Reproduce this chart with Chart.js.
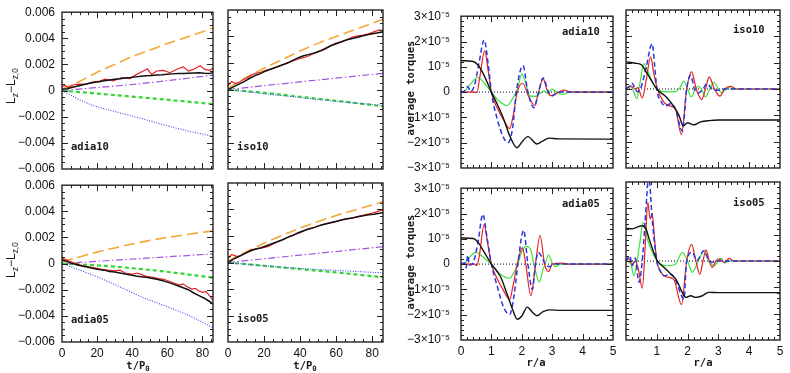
<!DOCTYPE html>
<html>
<head>
<meta charset="utf-8">
<title>torque panels</title>
<script src="https://cdn.jsdelivr.net/npm/chart.js@4.4.0/dist/chart.umd.min.js"></script>
<style>
  body { margin: 0; background: #fff; width: 790px; height: 373px; position: relative; overflow: hidden; }
  canvas { position: absolute; }
  .txt { position: absolute; white-space: nowrap; line-height: 1; color: #1a1a1a; }
  .mono { font-family: "DejaVu Sans Mono", monospace; font-size: 10.5px; font-weight: bold; }
  .sans { font-family: "Liberation Sans", Arial, sans-serif; font-size: 12px; }
  sub { font-size: 70%; vertical-align: -0.35em; }
</style>
</head>
<body>
<script>
// ---- axis ticks ----
const tTicks = [0, 20, 40, 60, 80];
const lzTicks = [-6, -4, -2, 0, 2, 4, 6];        // units of 0.001
const rTicks = [0, 1, 2, 3, 4, 5];
const rTicksIso = [1, 2, 3, 4, 5];
const torqueTicks = [-3, -2, -1, 0, 1, 2, 3];    // units of 1e-5

// ---- left panels: L_z - L_z,0 (units of 0.001) vs t/P0 ----
// adia10
const a10_orange = [[0,0.1],[10,0.7],[20,1.4],[30,2.0],[40,2.6],[50,3.1],[60,3.6],[70,4.05],[80,4.5],[86,4.8]];
const a10_purple = [[0,0],[46,0.55],[86,1.18]];
const a10_green = [[0,0],[46,-0.53],[86,-1.03]];
const a10_blue = [[0,0],[5,-0.35],[10,-0.7],[18,-1.16],[30,-1.6],[46,-2.16],[60,-2.7],[72,-3.1],[86,-3.5]];
const a10_red = [[0,0.3],[1.7,0.4],[3.6,0.24],[6.5,0.45],[10,0.5],[13.5,0.48],[17.8,0.67],[21,0.7],[24.5,0.87],[29.2,0.74],[34,1.0],[38.7,0.92],[42.5,1.24],[46.3,1.5],[48.6,1.67],[51,1.24],[53.9,1.5],[57.7,1.55],[61.5,1.37],[66,1.67],[69.1,1.82],[72,1.5],[74.8,1.62],[78.6,1.9],[81.4,1.62],[84.3,1.55],[86,1.75]];
const a10_black = [[0,0.1],[3,0.15],[6,0.25],[9,0.35],[12,0.45],[15,0.55],[18,0.62],[21,0.68],[24,0.76],[27,0.82],[30,0.87],[33,0.9],[36,0.96],[39,1.0],[42,1.05],[45,1.1],[48,1.14],[51,1.16],[54,1.2],[57,1.22],[60,1.25],[63,1.28],[66,1.3],[69,1.3],[72,1.33],[75,1.35],[78,1.36],[81,1.32],[84,1.3],[86,1.38]];
// adia05
const a05_orange = [[0,0.15],[10,0.5],[20,0.88],[30,1.2],[40,1.5],[50,1.78],[60,2.0],[70,2.2],[80,2.4],[86,2.5]];
const a05_purple = [[0,0],[46,0.4],[86,0.74]];
const a05_green = [[0,0],[27,-0.2],[56,-0.57],[86,-1.07]];
const a05_blue = [[0,0],[10,-0.5],[18,-0.9],[30,-1.6],[46,-2.6],[60,-3.3],[72,-3.95],[86,-4.9]];
const a05_red = [[0,0.4],[2,0.3],[4,0.2],[7,0.05],[10,-0.1],[14,-0.22],[18,-0.3],[22,-0.42],[26,-0.5],[30,-0.55],[33,-0.5],[36,-0.72],[40,-0.8],[43,-0.72],[45,-0.82],[48,-0.98],[52,-1.05],[55,-1.15],[58,-1.2],[61,-1.35],[64,-1.5],[67,-1.65],[69,-1.55],[71,-1.75],[74,-1.95],[76,-1.9],[78,-2.1],[80,-2.2],[82,-2.15],[84,-2.45],[86,-2.8]];
const a05_black = [[0,0.3],[3,0.15],[6,0],[9,-0.1],[12,-0.2],[15,-0.28],[18,-0.38],[21,-0.45],[24,-0.5],[27,-0.6],[30,-0.65],[33,-0.72],[36,-0.8],[39,-0.88],[42,-0.95],[45,-1.0],[48,-1.05],[51,-1.12],[54,-1.2],[57,-1.3],[60,-1.42],[63,-1.55],[66,-1.7],[69,-1.85],[72,-2.0],[75,-2.25],[78,-2.45],[81,-2.65],[84,-2.9],[86,-3.1]];
// iso10
const i10_orange = [[0,0.1],[10,0.9],[20,1.6],[30,2.25],[40,2.9],[50,3.5],[60,4.0],[70,4.5],[80,5.0],[86,5.3]];
const i10_purple = [[0,0],[43,0.62],[86,1.22]];
const i10_green = [[0,0],[20,-0.25],[40,-0.55],[60,-0.85],[86,-1.27]];
const i10_blue = [[0,0],[20,-0.32],[40,-0.6],[60,-0.9],[86,-1.2]];
const i10_red = [[0,0.27],[2,0.6],[4,0.45],[6,0.55],[8,0.7],[10,0.85],[13,1.1],[15,1.2],[18,1.3],[21,1.45],[24,1.55],[27,1.7],[30,1.85],[33,2.0],[36,2.15],[39,2.3],[42,2.4],[45,2.55],[48,2.75],[51,2.9],[54,3.05],[57,3.3],[60,3.5],[63,3.6],[66,3.75],[69,3.95],[72,4.05],[75,4.1],[78,4.2],[81,4.35],[84,4.5],[86,4.42]];
const i10_black = [[0,0],[3,0.2],[6,0.4],[9,0.6],[12,0.85],[15,1.05],[18,1.2],[21,1.4],[24,1.55],[27,1.7],[30,1.85],[33,2.0],[36,2.2],[39,2.4],[42,2.55],[45,2.65],[48,2.75],[51,2.9],[54,3.1],[57,3.3],[60,3.45],[63,3.6],[66,3.75],[69,3.85],[72,3.95],[75,4.05],[78,4.15],[81,4.22],[84,4.3],[86,4.35]];
// iso05
const i05_orange = [[0,0.1],[10,0.8],[20,1.45],[30,2.05],[40,2.6],[50,3.1],[60,3.55],[70,3.95],[80,4.35],[86,4.6]];
const i05_purple = [[0,0],[43,0.6],[86,1.19]];
const i05_green = [[0,0],[20,-0.25],[40,-0.5],[60,-0.75],[86,-1.12]];
const i05_blue = [[0,0],[20,-0.25],[40,-0.45],[60,-0.6],[86,-0.78]];
const i05_red = [[0,0.3],[2,0.6],[4,0.5],[6,0.45],[8,0.6],[10,0.75],[13,0.95],[16,1.05],[19,1.1],[22,1.2],[25,1.4],[28,1.6],[31,1.75],[34,1.95],[37,2.1],[40,2.25],[43,2.45],[46,2.55],[49,2.7],[52,2.85],[55,2.95],[58,3.05],[61,3.15],[64,3.25],[67,3.3],[70,3.4],[73,3.5],[76,3.6],[79,3.7],[82,3.8],[85,3.95],[86,3.9]];
const i05_black = [[0,0],[3,0.25],[6,0.45],[9,0.65],[12,0.85],[15,1.0],[18,1.1],[21,1.25],[24,1.4],[27,1.55],[30,1.7],[33,1.9],[36,2.05],[39,2.25],[42,2.4],[45,2.55],[48,2.65],[51,2.8],[54,2.9],[57,3.0],[60,3.1],[63,3.2],[66,3.3],[69,3.35],[72,3.45],[75,3.52],[78,3.6],[81,3.65],[84,3.72],[86,3.75]];

// ---- right panels: average torques (units of 1e-5) vs r/a ----
const zeroLine = [[0,0],[5,0]];
// adia10
const ta10_black = [[0,1.24],[0.4,1.21],[0.55,1.08],[0.7,0.8],[0.85,0.42],[1.0,0],[1.2,-0.5],[1.4,-1.05],[1.6,-1.72],[1.84,-2.2],[2.0,-1.98],[2.2,-1.76],[2.5,-2.05],[2.65,-1.96],[2.9,-1.82],[3.2,-1.85],[5,-1.86]];
const ta10_blue = [[0,0],[0.12,0.05],[0.22,0.22],[0.32,0.02],[0.45,0.3],[0.6,1.2],[0.76,2.06],[0.9,1.05],[1.0,0],[1.2,-1.1],[1.4,-1.8],[1.55,-2.0],[1.7,-1.4],[1.82,0],[2.04,1.05],[2.2,0],[2.4,-0.62],[2.55,0],[2.7,0.56],[2.88,0],[3.0,-0.15],[3.2,0],[5,0]];
const ta10_red = [[0,0],[0.45,0],[0.52,-0.02],[0.62,0.6],[0.78,1.63],[0.9,0.8],[1.0,0],[1.2,-0.65],[1.4,-1.1],[1.6,-1.44],[1.72,-0.9],[1.85,0],[2.03,0.35],[2.2,-0.1],[2.42,-0.53],[2.55,0],[2.7,0.52],[2.85,0],[2.95,-0.14],[3.1,-0.08],[3.4,0.08],[3.6,0],[5,0]];
const ta10_green = [[0,0],[0.1,0.02],[0.3,0.3],[0.55,0.58],[0.7,0.45],[1.0,0],[1.25,-0.35],[1.52,-0.53],[1.7,-0.25],[1.85,0.1],[2.0,0.71],[2.12,0.4],[2.25,-0.15],[2.45,-0.17],[2.6,-0.05],[2.72,0.05],[2.85,-0.05],[3.0,0.12],[3.15,0],[3.35,-0.1],[3.55,0],[5,0]];
// adia05
const ta05_black = [[0,1.03],[0.4,1.01],[0.56,0.86],[0.75,0.5],[1.0,0],[1.3,-0.5],[1.5,-1.13],[1.7,-1.8],[1.85,-2.18],[2.0,-2.05],[2.18,-1.7],[2.35,-1.9],[2.5,-2.04],[2.7,-1.88],[2.9,-1.81],[3.3,-1.83],[5,-1.83]];
const ta05_blue = [[0,0],[0.12,0.05],[0.17,-0.15],[0.22,0.35],[0.28,-0.05],[0.4,0.05],[0.55,0.8],[0.72,1.97],[0.85,1.1],[1.0,0],[1.2,-0.9],[1.4,-1.7],[1.6,-1.99],[1.75,-1.2],[1.87,0],[2.06,1.34],[2.2,0],[2.35,-1.0],[2.45,0],[2.54,0.46],[2.65,0.3],[2.77,0],[2.9,-0.1],[3.1,0],[5,0]];
const ta05_red = [[0,0],[0.45,0],[0.52,-0.06],[0.6,0.3],[0.76,1.56],[0.88,0.8],[1.0,0],[1.2,-0.6],[1.4,-1.05],[1.6,-1.4],[1.72,-0.8],[1.85,0],[2.02,0.65],[2.13,0],[2.3,-1.25],[2.45,0],[2.6,1.13],[2.75,0],[2.88,-0.3],[3.0,0],[3.3,0.04],[3.6,0],[5,0]];
const ta05_green = [[0,0],[0.15,0.05],[0.3,0.3],[0.5,0.46],[0.7,0.3],[1.0,0],[1.3,-0.4],[1.6,-0.56],[1.75,-0.3],[1.87,0],[2.0,0.5],[2.15,0.7],[2.28,0.6],[2.4,0],[2.58,-0.71],[2.7,-0.2],[2.77,0],[2.88,0.37],[3.0,0.05],[3.08,-0.1],[3.3,0],[5,0]];
// iso10
const ti10_black = [[0,1.03],[0.3,0.98],[0.5,0.92],[0.69,0.58],[1.0,0],[1.34,-0.34],[1.56,-0.68],[1.72,-1.0],[1.86,-1.4],[2.0,-1.28],[2.2,-1.36],[2.42,-1.25],[2.7,-1.2],[3.0,-1.18],[5,-1.18]];
const ti10_blue = [[0,0],[0.12,0.1],[0.2,0.22],[0.3,0],[0.37,-0.1],[0.5,0.1],[0.65,0.8],[0.85,1.72],[0.93,0.9],[1.0,0],[1.15,-0.5],[1.28,-0.65],[1.45,-0.56],[1.6,-0.75],[1.83,-1.6],[1.97,0],[2.1,0.52],[2.22,0],[2.35,-0.15],[2.5,0],[2.62,0.2],[2.8,0],[3.0,-0.05],[3.2,0],[5,0]];
const ti10_red = [[0,0],[0.15,0.12],[0.3,0],[0.38,0.05],[0.53,-0.34],[0.65,0.3],[0.8,1.22],[0.9,0.6],[1.02,0],[1.2,-0.45],[1.35,-0.62],[1.6,-0.75],[1.8,-1.73],[1.97,0],[2.13,0.65],[2.28,0],[2.46,-0.4],[2.58,0],[2.7,0.46],[2.87,0],[3.05,-0.27],[3.2,0],[3.4,0.1],[3.6,0],[5,0]];
const ti10_green = [[0,0],[0.15,0.1],[0.25,-0.1],[0.35,-0.37],[0.45,0.2],[0.58,0.96],[0.7,0.7],[0.85,0.3],[1.0,0],[1.3,-0.11],[1.6,-0.1],[1.75,0.05],[1.87,0.3],[2.0,0],[2.12,-0.3],[2.25,0],[2.35,0.1],[2.45,0],[2.58,-0.3],[2.72,0],[2.85,0.25],[3.0,0],[3.1,-0.15],[3.25,0],[3.35,0.05],[3.5,0],[5,0]];
// iso05
const ti05_black = [[0,1.24],[0.2,1.22],[0.35,1.28],[0.53,1.34],[0.65,1.22],[0.75,0.84],[0.9,0.33],[1.02,0],[1.23,-0.24],[1.45,-0.49],[1.65,-0.75],[1.8,-1.13],[1.94,-1.38],[2.1,-1.32],[2.26,-1.38],[2.48,-1.32],[2.68,-1.19],[3.0,-1.2],[5,-1.2]];
const ti05_blue = [[0,0],[0.12,0.2],[0.2,-0.18],[0.3,0.1],[0.42,-0.81],[0.52,-0.1],[0.62,1.5],[0.74,3.2],[0.85,1.6],[1.0,0],[1.1,-0.35],[1.23,-0.56],[1.45,-0.49],[1.6,-0.7],[1.88,-1.44],[1.97,0],[2.15,0.33],[2.3,0.02],[2.53,0.39],[2.7,0],[2.85,-0.05],[3.0,0],[5,0]];
const ti05_red = [[0,0],[0.1,0.08],[0.2,-0.15],[0.3,0],[0.4,-0.3],[0.53,-1.03],[0.62,0.5],[0.71,2.23],[0.78,1.6],[0.85,1.8],[0.93,0.8],[1.0,0],[1.15,-0.45],[1.3,-0.6],[1.55,-0.7],[1.8,-1.66],[1.97,0],[2.13,0.62],[2.27,0],[2.4,-0.5],[2.5,0],[2.6,0.42],[2.7,0],[2.8,-0.24],[2.92,0],[3.02,0.08],[3.2,-0.05],[3.35,0.1],[3.5,0],[5,0]];
const ti05_green = [[0,0],[0.15,-0.1],[0.26,-0.56],[0.36,0],[0.45,0.7],[0.56,1.47],[0.7,0.8],[0.85,0.35],[1.02,0],[1.3,-0.18],[1.6,-0.12],[1.83,0.33],[2.0,0],[2.15,-0.43],[2.35,0],[2.53,0.39],[2.7,0],[2.86,-0.18],[3.0,0],[3.1,0.1],[3.2,-0.08],[3.35,0],[5,0]];

const C = {
  orange: '#f2a838', purple: '#a650e0', green: '#30d830', blue: '#3a46ee',
  red: '#e52226', black: '#111111', blueDash: '#2a36e0', green2: '#3ee03e'
};

// inward ticks on all four sides + box
const framePlugin = {
  id: 'frame',
  afterDatasetsDraw(chart, args, o) {
    const { ctx, chartArea: a, scales: { x, y } } = chart;
    const isMajor = (v, list) => list.some(m => Math.abs(m - v) < 1e-6);
    ctx.save();
    ctx.strokeStyle = '#222';
    ctx.lineWidth = 1;
    ctx.beginPath();
    const nx = Math.round((x.max - x.min) / o.xStep);
    for (let i = 1; i <= nx; i++) {
      const v = x.min + i * o.xStep;
      if (v >= x.max - 1e-9) continue;
      const px = Math.round(x.getPixelForValue(v)) + 0.5;
      const len = isMajor(v, o.xMajor) ? 6 : 3;
      ctx.moveTo(px, a.bottom); ctx.lineTo(px, a.bottom - len);
      ctx.moveTo(px, a.top); ctx.lineTo(px, a.top + len);
    }
    const ny = Math.round((y.max - y.min) / o.yStep);
    for (let i = 1; i < ny; i++) {
      const v = y.min + i * o.yStep;
      const py = Math.round(y.getPixelForValue(v)) + 0.5;
      const len = isMajor(v, o.yMajor) ? 6 : 3;
      ctx.moveTo(a.left, py); ctx.lineTo(a.left + len, py);
      ctx.moveTo(a.right, py); ctx.lineTo(a.right - len, py);
    }
    ctx.stroke();
    ctx.lineWidth = 1.4;
    ctx.strokeRect(a.left, a.top, a.right - a.left, a.bottom - a.top);
    ctx.restore();
  }
};

const YW = 64, PT = 12, PR = 10, XH = 24;
const tickFont = { family: '"Liberation Sans", Arial, sans-serif', size: 12 };

const fmtLz = v => v === 0 ? '0' : (v < 0 ? '−' : '') + (Math.abs(v) / 1000).toFixed(3);
const fmtTorque = v => v === 0 ? '0' : v === 1 ? '10⁻⁵' : (v < 0 ? '−' : '') + Math.abs(v) + '×10⁻⁵';

function makePanel(p) {
  const [l, t, r, b] = p.box;
  const w = r - l + YW + PR, h = b - t + PT + XH;
  const cv = document.createElement('canvas');
  cv.width = w; cv.height = h;
  cv.style.left = (l - YW) + 'px';
  cv.style.top = (t - PT) + 'px';
  document.body.appendChild(cv);
  new Chart(cv, {
    type: 'line',
    data: { datasets: p.sets },
    options: {
      responsive: false, animation: false, events: [],
      layout: { padding: { left: 0, top: PT, right: PR, bottom: 0 } },
      elements: { point: { radius: 0 } },
      plugins: {
        legend: { display: false }, tooltip: { enabled: false },
        frame: { xStep: p.xStep, yStep: p.yStep, xMajor: p.xMajor, yMajor: p.yMajor }
      },
      scales: {
        x: {
          type: 'linear', min: p.xr[0], max: p.xr[1],
          grid: { display: false, drawTicks: false }, border: { display: false },
          afterBuildTicks: s => { s.ticks = p.xLabels.map(v => ({ value: v })); },
          afterFit: s => { s.height = XH; },
          ticks: { display: p.showX, font: tickFont, color: '#111', padding: 4, maxRotation: 0, autoSkip: false }
        },
        y: {
          type: 'linear', min: p.yr[0], max: p.yr[1],
          grid: { display: false, drawTicks: false }, border: { display: false },
          afterBuildTicks: s => { s.ticks = p.yMajor.map(v => ({ value: v })); },
          afterFit: s => { s.width = YW; },
          ticks: { display: p.showY, font: tickFont, color: '#111', padding: p.yPad, autoSkip: false, callback: p.fmtY }
        }
      }
    },
    plugins: [framePlugin]
  });
}

function leftSets(s) {
  return [
    { data: s.black, borderColor: C.black, borderWidth: 1.5, tension: 0 },
    { data: s.red, borderColor: C.red, borderWidth: 1.2, tension: 0 },
    { data: s.blue, borderColor: C.blue, borderWidth: 1.1, borderDash: [1, 1.5], tension: 0 },
    { data: s.green, borderColor: C.green, borderWidth: 2.2, borderDash: [4, 3], cubicInterpolationMode: 'monotone' },
    { data: s.purple, borderColor: C.purple, borderWidth: 1.2, borderDash: [7, 2.5, 1.5, 2.5], cubicInterpolationMode: 'monotone' },
    { data: s.orange, borderColor: C.orange, borderWidth: 1.6, borderDash: [11, 5], cubicInterpolationMode: 'monotone' }
  ];
}
function rightSets(s) {
  const m = 'monotone';
  return [
    { data: s.black, borderColor: C.black, borderWidth: 1.4, cubicInterpolationMode: m },
    { data: s.blue, borderColor: C.blueDash, borderWidth: 1.5, borderDash: [5, 3], cubicInterpolationMode: m },
    { data: s.red, borderColor: C.red, borderWidth: 1.2, cubicInterpolationMode: m },
    { data: s.green, borderColor: C.green2, borderWidth: 1.2, cubicInterpolationMode: m },
    { data: zeroLine, borderColor: '#000', borderWidth: 1, borderDash: [1, 2] }
  ];
}

const leftBase = { xr: [0, 86], yr: [-6, 6], xStep: 5, yStep: 0.5, xMajor: tTicks, yMajor: lzTicks, xLabels: tTicks, fmtY: fmtLz, yPad: 7 };
const rightBase = { xr: [0, 5], yr: [-3, 3], xStep: 0.2, yStep: 0.2, xMajor: rTicks, yMajor: torqueTicks, fmtY: fmtTorque, yPad: 11 };

makePanel({ ...leftBase, box: [62, 10, 213, 169], showY: true, showX: false,
  sets: leftSets({ black: a10_black, red: a10_red, blue: a10_blue, green: a10_green, purple: a10_purple, orange: a10_orange }) });
makePanel({ ...leftBase, box: [228, 10, 383, 169], showY: false, showX: false,
  sets: leftSets({ black: i10_black, red: i10_red, blue: i10_blue, green: i10_green, purple: i10_purple, orange: i10_orange }) });
makePanel({ ...leftBase, box: [62, 183, 213, 342], showY: true, showX: true,
  sets: leftSets({ black: a05_black, red: a05_red, blue: a05_blue, green: a05_green, purple: a05_purple, orange: a05_orange }) });
makePanel({ ...leftBase, box: [228, 183, 383, 342], showY: false, showX: true,
  sets: leftSets({ black: i05_black, red: i05_red, blue: i05_blue, green: i05_green, purple: i05_purple, orange: i05_orange }) });

makePanel({ ...rightBase, box: [461, 10, 613, 168], showY: true, showX: false, xLabels: rTicks,
  sets: rightSets({ black: ta10_black, blue: ta10_blue, red: ta10_red, green: ta10_green }) });
makePanel({ ...rightBase, box: [626, 10, 780, 168], showY: false, showX: false, xLabels: rTicksIso,
  sets: rightSets({ black: ti10_black, blue: ti10_blue, red: ti10_red, green: ti10_green }) });
makePanel({ ...rightBase, box: [461, 182, 613, 340], showY: true, showX: true, xLabels: rTicks,
  sets: rightSets({ black: ta05_black, blue: ta05_blue, red: ta05_red, green: ta05_green }) });
makePanel({ ...rightBase, box: [626, 182, 780, 340], showY: false, showX: true, xLabels: rTicksIso,
  sets: rightSets({ black: ti05_black, blue: ti05_blue, red: ti05_red, green: ti05_green }) });

// ---- text overlays ----
function addText(html, x, y, cls, rotate) {
  const d = document.createElement('div');
  d.className = 'txt ' + cls;
  d.innerHTML = html;
  d.style.left = x + 'px';
  d.style.top = y + 'px';
  d.style.transform = rotate ? 'translate(-50%,-50%) rotate(-90deg)' : 'translate(0,-50%)';
  document.body.appendChild(d);
  return d;
}
function addCentered(html, x, y, cls) {
  const d = addText(html, x, y, cls, false);
  d.style.transform = 'translate(-50%,-50%)';
}

addText('L<sub>z</sub>−L<sub>z,0</sub>', 12, 86, 'sans', true);
addText('L<sub>z</sub>−L<sub>z,0</sub>', 12, 260, 'sans', true);
addText('average torques', 410, 88, 'mono', true);
addText('average torques', 410, 262, 'mono', true);
addCentered('t/P<sub>0</sub>', 138, 366, 'mono');
addCentered('t/P<sub>0</sub>', 305, 366, 'mono');
addCentered('r/a', 536, 362, 'mono');
addCentered('r/a', 703, 362, 'mono');

addText('adia10', 71, 146, 'mono');
addText('adia05', 71, 319, 'mono');
addText('iso10', 237, 146, 'mono');
addText('iso05', 237, 318, 'mono');
addText('adia10', 562, 31, 'mono');
addText('adia05', 562, 203, 'mono');
addText('iso10', 733, 29, 'mono');
addText('iso05', 733, 202, 'mono');
</script>
</body>
</html>
